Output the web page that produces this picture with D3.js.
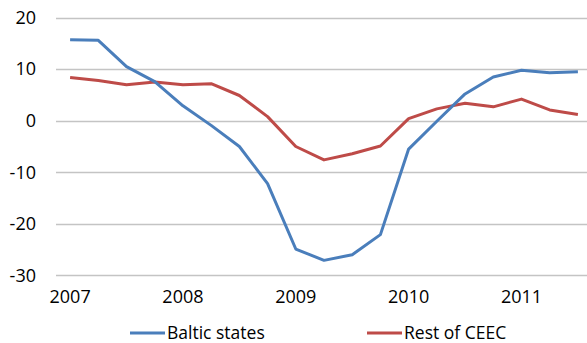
<!DOCTYPE html>
<html>
<head>
<meta charset="utf-8">
<script src="https://cdn.jsdelivr.net/npm/d3@7"></script>
<style>
  body { margin: 0; background: #fff; }
  svg text { font-family: "Open Sans", "Liberation Sans", Arial, sans-serif; fill: #000; }
</style>
</head>
<body>
<div id="chart"></div>
<script>
// quarters 2007Q1 .. 2011Q3
var quarters = ["2007Q1","2007Q2","2007Q3","2007Q4","2008Q1","2008Q2","2008Q3","2008Q4",
                "2009Q1","2009Q2","2009Q3","2009Q4","2010Q1","2010Q2","2010Q3","2010Q4",
                "2011Q1","2011Q2","2011Q3"]
var baltic = [15.7, 15.6, 10.5, 7.6, 2.9, -0.9, -5.0, -12.2, -24.9, -27.1, -26.0, -22.1,
              -5.5, -0.1, 5.2, 8.5, 9.8, 9.3, 9.5]
var restCEEC = [8.4, 7.8, 7.0, 7.5, 7.0, 7.2, 4.9, 0.8, -5.0, -7.6, -6.4, -4.9,
                0.4, 2.3, 3.4, 2.7, 4.2, 2.1, 1.2]
var yTicks = [-30, -20, -10, 0, 10, 20]
var seriesNames = ["Baltic states", "Rest of CEEC"]

const colors = {
  'baltic': '#4a7ebb',
  'rest': '#be4b48',
  'grid': '#c4c4c4'
}
const fontFam = '"Open Sans", "Liberation Sans", Arial, sans-serif'

var width = 587, height = 343
var svg = d3.select("#chart").append("svg")
    .attr("width", width)
    .attr("height", height)

var x = d3.scaleBand()
    .domain(quarters)
    .range([56, 592])
    .padding(0)
var y = d3.scaleLinear()
    .domain([-30, 20])
    .range([275.3, 17.7])

// gridlines
svg.append("g")
    .selectAll("line")
    .data(yTicks)
    .enter()
    .append("line")
    .attr("x1", 56)
    .attr("x2", width)
    .attr("y1", d => Math.round(y(d)) + 0.5)
    .attr("y2", d => Math.round(y(d)) + 0.5)
    .attr("stroke", colors.grid)
    .attr("stroke-width", 1.3)

// y axis labels (plain hyphen, like the original)
var yAxis = d3.axisLeft(y)
    .tickValues(yTicks)
    .tickFormat(d => String(d))
    .tickSize(0)
    .tickPadding(0)
var yg = svg.append("g")
    .attr("transform", "translate(36,0)")
    .call(yAxis)
yg.select(".domain").remove()
yg.selectAll("text")
    .style("font-family", fontFam)
    .style("font-size", "18px")
    .attr("fill", "#000")

// x axis labels, one per year
var xAxis = d3.axisBottom(x)
    .tickValues(quarters.filter((q, i) => i % 4 == 0))
    .tickFormat(q => q.substring(0, 4))
    .tickSize(0)
    .tickPadding(0)
var xg = svg.append("g")
    .attr("transform", "translate(0,290)")
    .call(xAxis)
xg.select(".domain").remove()
xg.selectAll("text")
    .style("font-family", fontFam)
    .style("font-size", "18px")
    .attr("fill", "#000")

var line = d3.line()
    .x((d, i) => x(quarters[i]) + x.bandwidth() / 2)
    .y(d => y(d))

svg.append("path")
    .datum(restCEEC)
    .attr("d", line)
    .attr("fill", "none")
    .attr("stroke", colors.rest)
    .attr("stroke-width", 3)
    .attr("stroke-linejoin", "round")
svg.append("path")
    .datum(baltic)
    .attr("d", line)
    .attr("fill", "none")
    .attr("stroke", colors.baltic)
    .attr("stroke-width", 3)
    .attr("stroke-linejoin", "round")

// legend
var legendData = [
  { x: 130, name: seriesNames[0], color: colors.baltic },
  { x: 367, name: seriesNames[1], color: colors.rest }
]
var leg = svg.selectAll(".legend")
    .data(legendData)
    .enter()
    .append("g")
    .attr("class", "legend")
    .attr("transform", d => "translate(" + d.x + ",333)")
leg.append("line")
    .attr("x1", 0)
    .attr("x2", 35)
    .attr("stroke", d => d.color)
    .attr("stroke-width", 3)
leg.append("text")
    .attr("x", 37)
    .attr("dy", "0.33em")
    .style("font-family", fontFam)
    .style("font-size", "17.5px")
    .text(d => d.name)
</script>
</body>
</html>
